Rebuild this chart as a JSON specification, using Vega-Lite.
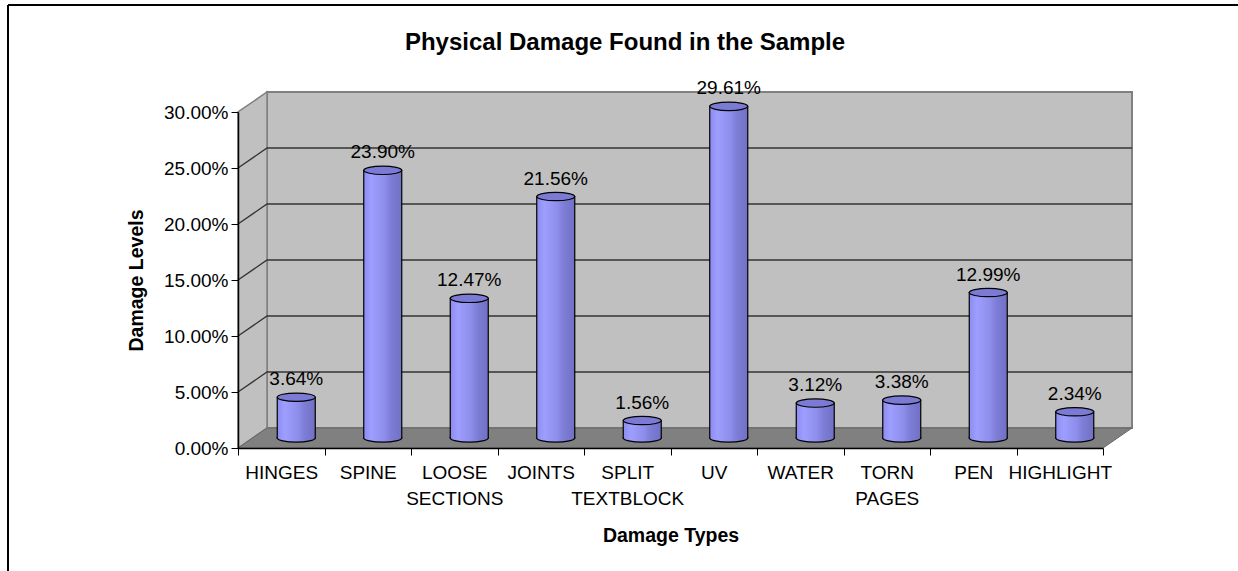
{
  "$schema": "https://vega.github.io/schema/vega-lite/v6.json",
  "width": 865,
  "height": 336,
  "autosize": {"type": "none"},
  "padding": {"left": 238, "top": 112, "right": 135, "bottom": 123},
  "background": "white",
  "config": {
    "font": "Liberation Sans",
    "view": {"stroke": null},
    "text": {"font": "Liberation Sans", "color": "black"}
  },
  "title": {
    "text": "Physical Damage Found in the Sample",
    "fontSize": 24,
    "fontWeight": "bold",
    "color": "black",
    "anchor": "middle",
    "frame": "bounds",
    "dx": 2,
    "offset": -54
  },
  "data": {
    "values": [
      {"type": "HINGES", "pct": 0.0364},
      {"type": "SPINE", "pct": 0.2390},
      {"type": "LOOSE SECTIONS", "pct": 0.1247},
      {"type": "JOINTS", "pct": 0.2156},
      {"type": "SPLIT TEXTBLOCK", "pct": 0.0156},
      {"type": "UV", "pct": 0.2961},
      {"type": "WATER", "pct": 0.0312},
      {"type": "TORN PAGES", "pct": 0.0338},
      {"type": "PEN", "pct": 0.1299},
      {"type": "HIGHLIGHT", "pct": 0.0234}
    ]
  },
  "layer": [
    {
      "data": {"values": [{"part": "frame"}]},
      "mark": {"type": "point", "shape": "M -230 -107 L 1000 -107 M -230 -107 L -230 470", "size": 4, "filled": false, "stroke": "black", "strokeWidth": 2, "opacity": 1},
      "encoding": {"x": {"value": 0}, "y": {"datum": 0.3, "type": "quantitative", "title": "Damage Levels"}}
    },
    {
      "data": {"values": [{"part": "back wall"}]},
      "mark": {"type": "point", "shape": "M 29 -20 L 894 -20 L 894 -356 L 29 -356 Z", "size": 4, "filled": true, "fill": "#C0C0C0", "stroke": "#808080", "strokeWidth": 2, "opacity": 1},
      "encoding": {"x": {"value": 0}, "y": {"datum": 0, "type": "quantitative", "title": "Damage Levels"}}
    },
    {
      "data": {"values": [{"part": "side wall"}]},
      "mark": {"type": "point", "shape": "M 0 0 L 0 -336 L 29 -356 L 29 -20 Z", "size": 4, "filled": true, "fill": "#C0C0C0", "stroke": "#808080", "strokeWidth": 1.5, "opacity": 1},
      "encoding": {"x": {"value": 0}, "y": {"datum": 0, "type": "quantitative", "title": "Damage Levels"}}
    },
    {
      "data": {"values": [{"t": 0.05}, {"t": 0.10}, {"t": 0.15}, {"t": 0.20}, {"t": 0.25}]},
      "mark": {"type": "point", "shape": "M 0 0 L 29 -20 L 894 -20", "size": 4, "filled": false, "stroke": "#333333", "strokeWidth": 1.3, "opacity": 1},
      "encoding": {"x": {"value": 0}, "y": {"field": "t", "type": "quantitative", "title": "Damage Levels"}}
    },
    {
      "data": {"values": [{"part": "floor"}]},
      "mark": {"type": "point", "shape": "M 0 0 L 865 0 L 894 -20 L 29 -20 Z", "size": 4, "filled": true, "fill": "#808080", "stroke": "#666666", "strokeWidth": 1, "opacity": 1},
      "encoding": {"x": {"value": 0}, "y": {"datum": 0, "type": "quantitative", "title": "Damage Levels"}}
    },
    {
      "mark": {
        "type": "bar",
        "width": 38,
        "xOffset": 15,
        "yOffset": -10,
        "y2Offset": -10,
        "fill": {"gradient": "linear", "x1": 0, "y1": 0, "x2": 1, "y2": 0, "stops": [
          {"offset": 0, "color": "#8c8cf0"},
          {"offset": 0.2, "color": "#9e9eff"},
          {"offset": 0.55, "color": "#8d8deb"},
          {"offset": 0.72, "color": "#7d7dd6"},
          {"offset": 1, "color": "#7070c4"}
        ]},
        "stroke": "black",
        "strokeWidth": 1.2
      },
      "encoding": {
        "x": {
          "field": "type",
          "type": "nominal",
          "sort": null,
          "scale": {"paddingInner": 0, "paddingOuter": 0},
          "axis": {
            "title": "Damage Types",
            "labelAngle": 0,
            "tickBand": "extent",
            "tickSize": 7,
            "tickColor": "black",
            "domainColor": "black",
            "domainWidth": 1.5,
            "labelPadding": 8,
            "labelFontSize": 19,
            "labelColor": "black",
            "labelLineHeight": 26,
            "labelExpr": "split(datum.label, ' ')",
            "labelOverlap": false,
            "labelBound": false,
            "titleFontSize": 19.5,
            "titleFontWeight": "bold",
            "titleColor": "black",
            "titlePadding": 18,
            "zindex": 1
          }
        },
        "y": {
          "field": "pct",
          "type": "quantitative",
          "title": "Damage Levels",
          "scale": {"domain": [0, 0.3], "nice": false},
          "axis": {
            "values": [0, 0.05, 0.1, 0.15, 0.2, 0.25, 0.3],
            "format": ".2%",
            "grid": false,
            "tickSize": 7,
            "tickColor": "black",
            "domainColor": "black",
            "domainWidth": 1.5,
            "labelPadding": 3,
            "labelFontSize": 19,
            "labelColor": "black",
            "titleFontSize": 19.5,
            "titleFontWeight": "bold",
            "titleColor": "black",
            "titlePadding": 17,
            "zindex": 1
          }
        }
      }
    },
    {
      "mark": {
        "type": "point",
        "shape": "M -1 -0.06 L -1 0 A 1 0.22 0 0 0 1 0 L 1 -0.06",
        "size": 1444,
        "xOffset": 15,
        "yOffset": -10,
        "filled": true,
        "fill": {"gradient": "linear", "x1": 0, "y1": 0, "x2": 1, "y2": 0, "stops": [
          {"offset": 0, "color": "#8c8cf0"},
          {"offset": 0.2, "color": "#9e9eff"},
          {"offset": 0.55, "color": "#8d8deb"},
          {"offset": 0.72, "color": "#7d7dd6"},
          {"offset": 1, "color": "#7070c4"}
        ]},
        "stroke": "black",
        "strokeWidth": 1.2,
        "opacity": 1
      },
      "encoding": {
        "x": {"field": "type", "type": "nominal", "sort": null},
        "y": {"datum": 0, "type": "quantitative", "title": "Damage Levels"}
      }
    },
    {
      "mark": {
        "type": "point",
        "shape": "M -1 0 A 1 0.22 0 1 0 1 0 A 1 0.22 0 1 0 -1 0 Z",
        "size": 1444,
        "xOffset": 15,
        "yOffset": -10,
        "filled": true,
        "fill": "#7b7bd6",
        "stroke": "black",
        "strokeWidth": 1.2,
        "opacity": 1
      },
      "encoding": {
        "x": {"field": "type", "type": "nominal", "sort": null},
        "y": {"field": "pct", "type": "quantitative", "title": "Damage Levels"}
      }
    },
    {
      "mark": {"type": "text", "xOffset": 15, "yOffset": -10, "dy": -18, "fontSize": 19, "baseline": "middle", "align": "center", "color": "black"},
      "encoding": {
        "x": {"field": "type", "type": "nominal", "sort": null},
        "y": {"field": "pct", "type": "quantitative", "title": "Damage Levels"},
        "text": {"field": "pct", "type": "quantitative", "format": ".2%"}
      }
    }
  ]
}
